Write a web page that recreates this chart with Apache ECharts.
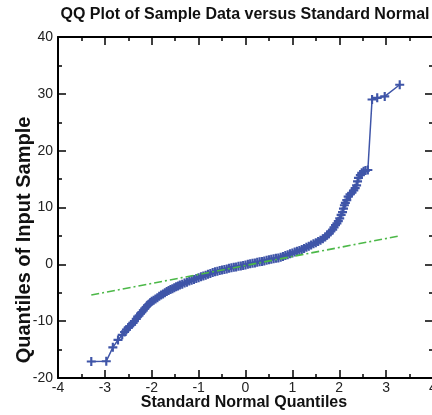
<!DOCTYPE html>
<html><head><meta charset="utf-8">
<script src="https://cdn.jsdelivr.net/npm/echarts@6/dist/echarts.min.js"></script>
<style>html,body{margin:0;padding:0;background:#fff}#c{width:432px;height:415px}</style>
</head><body><div id="c"></div>
<script>
// Standard normal quantiles (x) and sample quantiles (y)
const sampleX = [-3.29,-2.97,-2.83,-2.72,-2.63,-2.58,-2.54,-2.50,-2.47,-2.43,-2.40,-2.37,-2.33,-2.30,-2.27,-2.24,-2.21,-2.18,-2.15,-2.12,-2.09,-2.06,-2.03,-2.00,-1.96,-1.92,-1.88,-1.84,-1.80,-1.76,-1.72,-1.68,-1.64,-1.60,-1.56,-1.52,-1.48,-1.44,-1.40,-1.35,-1.30,-1.25,-1.20,-1.15,-1.10,-1.05,-1.00,-0.95,-0.90,-0.85,-0.80,-0.75,-0.70,-0.65,-0.60,-0.55,-0.50,-0.45,-0.40,-0.35,-0.30,-0.25,-0.20,-0.15,-0.10,-0.05,0.00,0.05,0.10,0.15,0.20,0.25,0.30,0.35,0.40,0.45,0.50,0.55,0.60,0.65,0.70,0.75,0.80,0.85,0.90,0.95,1.00,1.05,1.10,1.15,1.20,1.25,1.30,1.35,1.40,1.45,1.50,1.55,1.60,1.65,1.70,1.74,1.78,1.82,1.86,1.89,1.92,1.95,1.98,2.01,2.04,2.07,2.09,2.11,2.13,2.16,2.19,2.23,2.27,2.31,2.34,2.37,2.39,2.41,2.45,2.48,2.52,2.56,2.61,2.70,2.81,2.97,3.29];
const sampleY = [-17.1,-17.05,-14.6,-13.3,-12.4,-11.9,-11.5,-11.1,-10.9,-10.6,-10.3,-10.0,-9.6,-9.2,-9.0,-8.7,-8.4,-8.1,-7.8,-7.5,-7.2,-7.0,-6.7,-6.5,-6.3,-6.1,-5.9,-5.6,-5.4,-5.2,-5.0,-4.8,-4.6,-4.45,-4.3,-4.1,-3.95,-3.8,-3.65,-3.5,-3.3,-3.15,-2.95,-2.8,-2.65,-2.5,-2.35,-2.2,-2.05,-1.9,-1.75,-1.6,-1.45,-1.3,-1.2,-1.1,-1.0,-0.9,-0.8,-0.7,-0.6,-0.5,-0.45,-0.35,-0.3,-0.2,-0.1,0.0,0.1,0.2,0.25,0.35,0.45,0.5,0.6,0.7,0.8,0.9,1.0,1.05,1.1,1.25,1.4,1.55,1.7,1.85,2.0,2.15,2.3,2.45,2.6,2.8,3.0,3.2,3.4,3.6,3.8,4.0,4.25,4.5,4.8,5.1,5.4,5.8,6.1,6.5,6.9,7.2,7.6,8.1,8.7,9.2,9.8,10.4,10.8,11.3,11.9,12.3,12.6,13.0,13.4,13.9,14.6,15.2,15.7,16.1,16.4,16.5,16.6,29.0,29.3,29.55,31.6];
// Reference (robust fit) line end points
const refLineX = [-3.29, 3.29];
const refLineY = [-5.4, 5.0];
// Axis ticks
const xTickLabels = [-4,-3,-2,-1,0,1,2,3,4];
const yTickLabels = [-20,-10,0,10,20,30,40];

const chart = echarts.init(document.getElementById('c'), null, {renderer:'canvas'});
const FONT = '"Liberation Sans", Arial, Helvetica, sans-serif';
const blue = '#3f55a8';
const green = '#4cb848';
const tickStyle = {show:true, inside:true, length:8, lineStyle:{color:'#000', width:1.5}};
const minorStyle = {show:true, splitNumber:2, length:4, lineStyle:{color:'#000', width:1.5}};
const lineStyle = {show:true, onZero:false, lineStyle:{color:'#000', width:2}};
const xMin = xTickLabels[0], xMax = xTickLabels[xTickLabels.length-1];
const yMin = yTickLabels[0], yMax = yTickLabels[yTickLabels.length-1];

chart.setOption({
  animation:false,
  backgroundColor:'#fff',
  grid:{left:58, top:37, width:375, height:341, containLabel:false, outerBoundsMode:'none'},
  xAxis:[
    {type:'value', min:xMin, max:xMax, interval:1, position:'bottom',
     axisLine:lineStyle, axisTick:tickStyle, minorTick:minorStyle, splitLine:{show:false},
     axisLabel:{margin:3, fontFamily:FONT, fontSize:14, color:'#222', showMinLabel:true, showMaxLabel:true, hideOverlap:false}},
    {type:'value', min:xMin, max:xMax, interval:1, position:'top',
     axisLine:lineStyle, axisTick:tickStyle, minorTick:minorStyle, splitLine:{show:false},
     axisLabel:{show:false}}
  ],
  yAxis:[
    {type:'value', min:yMin, max:yMax, interval:10, position:'left',
     axisLine:lineStyle, axisTick:tickStyle, minorTick:minorStyle, splitLine:{show:false},
     axisLabel:{margin:5, fontFamily:FONT, fontSize:14, color:'#222', showMinLabel:true, showMaxLabel:true}},
    {type:'value', min:yMin, max:yMax, interval:10, position:'right',
     axisLine:lineStyle, axisTick:tickStyle, minorTick:minorStyle, splitLine:{show:false},
     axisLabel:{show:false}}
  ],
  graphic:[
    {type:'text', x:245, y:15, style:{text:'QQ Plot of Sample Data versus Standard Normal', x:0, y:0,
      textAlign:'center', textVerticalAlign:'middle', font:'bold 16px '+FONT, fill:'#111'}},
    {type:'text', x:244, y:403, style:{text:'Standard Normal Quantiles', x:0, y:0,
      textAlign:'center', textVerticalAlign:'middle', font:'bold 16px '+FONT, fill:'#111'}},
    {type:'text', x:24, y:240, rotation:Math.PI/2, style:{text:'Quantiles of Input Sample', x:0, y:0,
      textAlign:'center', textVerticalAlign:'middle', font:'bold 20px '+FONT, fill:'#111'}}
  ],
  series:[
    {type:'line', xAxisIndex:0, yAxisIndex:0, data:sampleX.map((x,i)=>[x, sampleY[i]]),
     showAllSymbol:true, symbol:'path://M3.8,0H6.2V3.8H10V6.2H6.2V10H3.8V6.2H0V3.8H3.8Z', symbolSize:9,
     itemStyle:{color:blue}, lineStyle:{color:blue, width:1.5}, z:3},
    {type:'line', xAxisIndex:0, yAxisIndex:0, data:refLineX.map((x,i)=>[x, refLineY[i]]),
     symbol:'none', lineStyle:{color:green, width:1.6, type:[8,3,2,3]}, z:4}
  ]
});
</script></body></html>
